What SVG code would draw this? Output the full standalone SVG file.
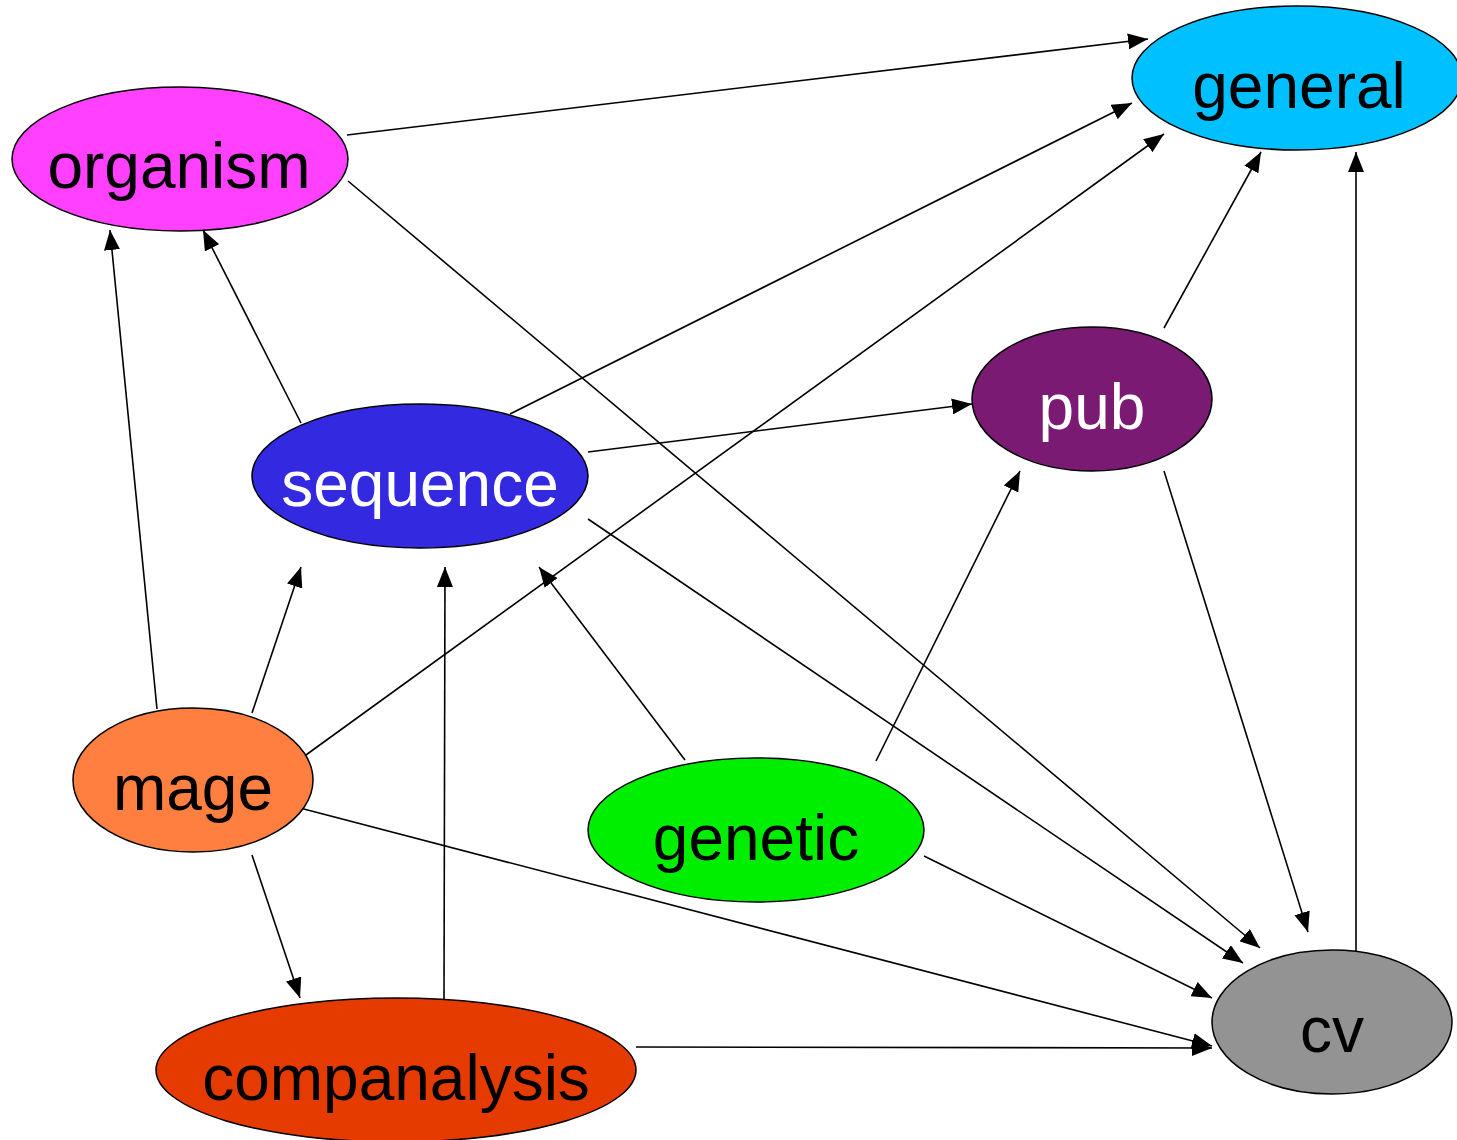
<svg xmlns="http://www.w3.org/2000/svg" width="1457" height="1140" viewBox="0 0 1457 1140">
<style>
.n{stroke:#000;stroke-width:1.5}
.t{font-family:"Liberation Sans",Arial,sans-serif;font-size:64px;text-anchor:middle}
.e line{stroke:#000;stroke-width:1.6;marker-end:url(#a)}
</style>
<defs>
<marker id="a" markerUnits="userSpaceOnUse" markerWidth="22" markerHeight="16" refX="20" refY="8" orient="auto">
<path d="M0,0 L20,8 L0,16 Z" fill="#000"/>
</marker>
</defs>
<rect width="1457" height="1140" fill="#fff"/>
<g id="connectors" class="e">
<line x1="347" y1="135" x2="1148" y2="39"/>
<line x1="510" y1="414" x2="1132" y2="103"/>
<line x1="299" y1="760" x2="1164" y2="134"/>
<line x1="1164" y1="328" x2="1261" y2="152"/>
<line x1="1356" y1="951" x2="1356" y2="152"/>
<line x1="348" y1="181" x2="1260" y2="948"/>
<line x1="301" y1="423" x2="203" y2="230"/>
<line x1="157" y1="709" x2="110" y2="230"/>
<line x1="588" y1="452" x2="972" y2="404"/>
<line x1="588" y1="519" x2="1243" y2="963"/>
<line x1="252" y1="713" x2="301" y2="567"/>
<line x1="444" y1="999" x2="445" y2="567"/>
<line x1="685" y1="760" x2="539" y2="567"/>
<line x1="876" y1="761" x2="1020" y2="471"/>
<line x1="1164" y1="471" x2="1308" y2="932"/>
<line x1="300" y1="808" x2="1212" y2="1046"/>
<line x1="924" y1="856" x2="1212" y2="998"/>
<line x1="636" y1="1047" x2="1212" y2="1048"/>
<line x1="252" y1="855" x2="300" y2="998"/>
</g>
<g id="general"><ellipse class="n" cx="1297" cy="78" rx="165" ry="72" fill="#00C0FF"/><text class="t" x="1299" y="108">general</text></g>
<g id="organism"><ellipse class="n" cx="180" cy="159" rx="168" ry="72" fill="#FF40FF"/><text class="t" x="179" y="188">organism</text></g>
<g id="sequence"><ellipse class="n" cx="420" cy="476" rx="168" ry="72" fill="#3229E0"/><text class="t" x="420" y="506" fill="#fff">sequence</text></g>
<g id="pub"><ellipse class="n" cx="1092" cy="399" rx="120" ry="72" fill="#7A1A73"/><text class="t" x="1092" y="429" fill="#fff">pub</text></g>
<g id="mage"><ellipse class="n" cx="193" cy="780" rx="120" ry="72" fill="#FF7F40"/><text class="t" x="193" y="810">mage</text></g>
<g id="genetic"><ellipse class="n" cx="756" cy="830" rx="168" ry="72" fill="#00EE00"/><text class="t" x="756" y="860">genetic</text></g>
<g id="companalysis"><ellipse class="n" cx="396" cy="1070" rx="240" ry="72" fill="#E53A00"/><text class="t" x="396" y="1100">companalysis</text></g>
<g id="cv"><ellipse class="n" cx="1332" cy="1022" rx="120" ry="72" fill="#939393"/><text class="t" x="1332" y="1052">cv</text></g>
</svg>
